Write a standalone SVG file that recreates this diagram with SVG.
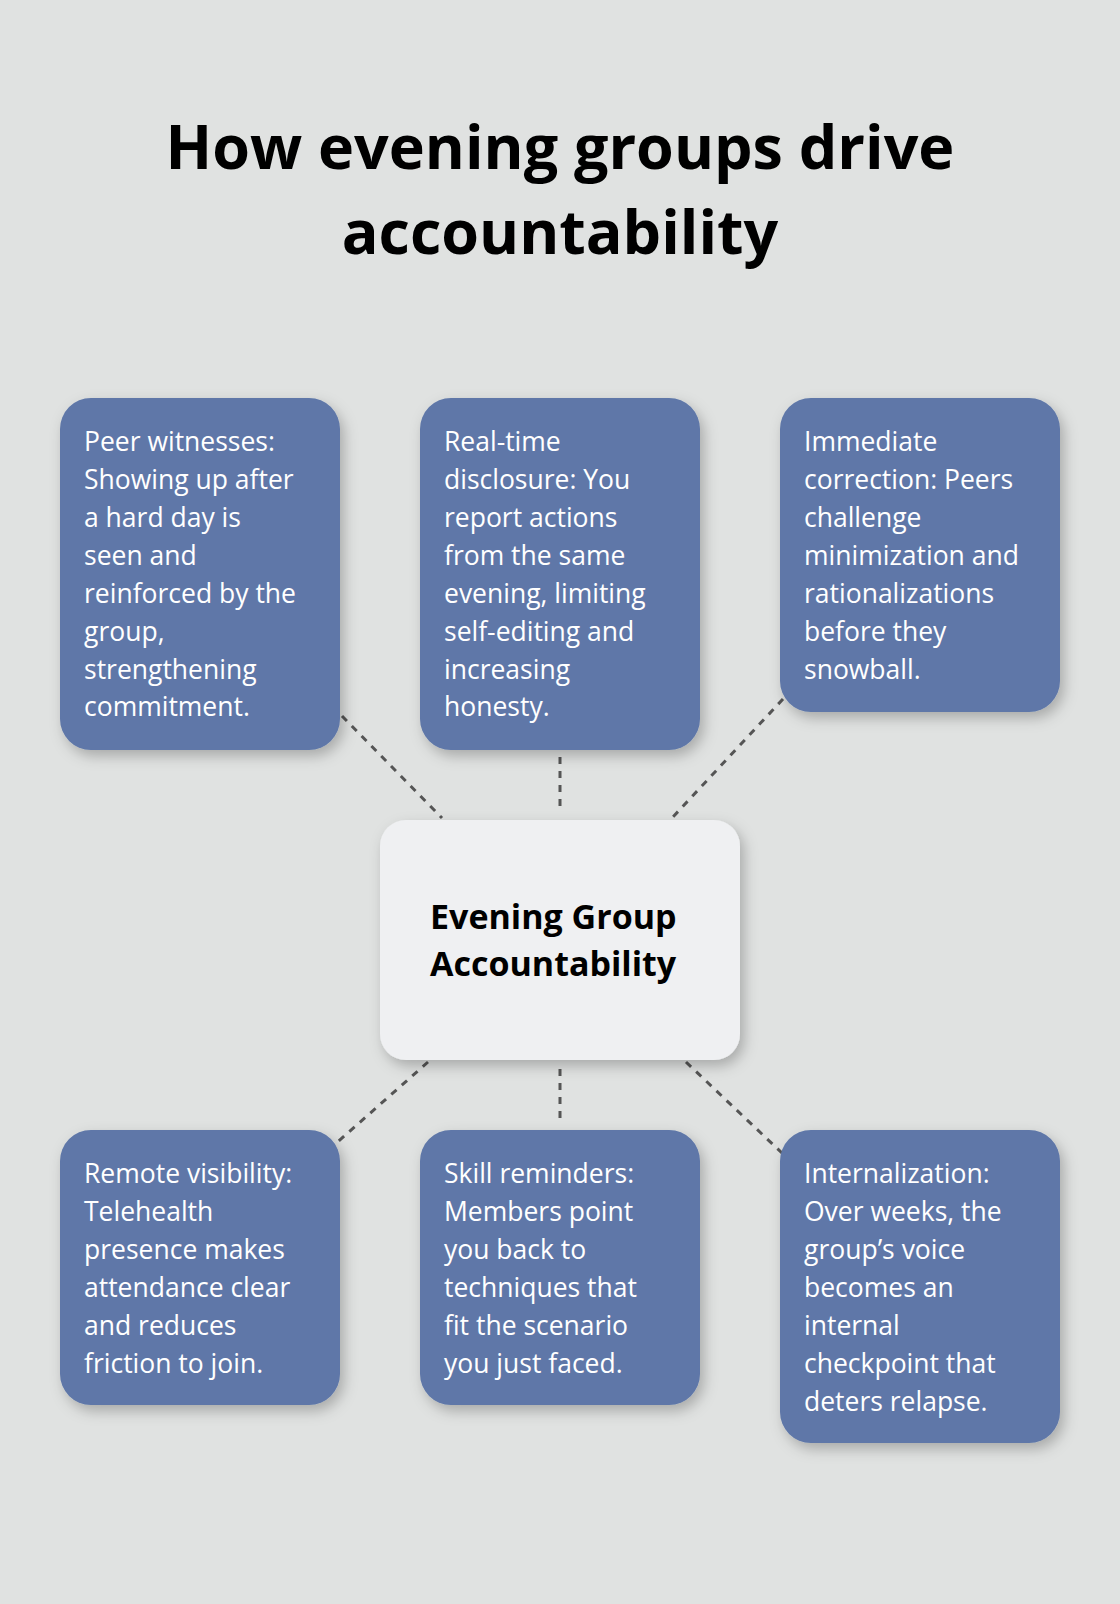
<svg xmlns="http://www.w3.org/2000/svg" width="1120" height="1604" viewBox="0 0 1120 1604">
<defs>
<filter id="sh" x="-20%" y="-20%" width="140%" height="140%"><feDropShadow dx="4" dy="6" stdDeviation="7" flood-color="#000" flood-opacity="0.25"/></filter>
<style>
.b{fill:#5e77a8;filter:url(#sh)}
.t{font-family:"Open Sans","Noto Sans",sans-serif;font-size:26.5px;fill:#fff}
.c{stroke:#555;stroke-width:3;stroke-dasharray:7 7;fill:none}
</style>
</defs>
<rect width="1120" height="1604" fill="#e0e2e1"/>
<g id="title" font-family="'Open Sans','Noto Sans',sans-serif" font-weight="bold" font-size="61" text-anchor="middle" fill="#000">
<text x="560" y="169">How evening groups drive</text>
<text x="560" y="254">accountability</text>
</g>
<g id="connectors">
<line class="c" x1="342" y1="716" x2="442" y2="818"/>
<line class="c" x1="560" y1="757" x2="560" y2="813"/>
<line class="c" x1="783" y1="699" x2="672" y2="818"/>
<line class="c" x1="428" y1="1062" x2="333" y2="1146"/>
<line class="c" x1="560" y1="1069" x2="560" y2="1125"/>
<line class="c" x1="686" y1="1062" x2="783" y2="1154"/>
</g>
<g id="center">
<rect x="380" y="820" width="360" height="240" rx="26" fill="#eff0f2" filter="url(#sh)"/>
<text font-family="'Open Sans','Noto Sans',sans-serif" font-weight="bold" font-size="34" fill="#000" x="430"><tspan x="430" y="929">Evening Group</tspan><tspan x="430" y="976">Accountability</tspan></text>
</g>
<g id="n1"><rect class="b" x="60" y="398" width="280" height="352" rx="31"/>
<text class="t"><tspan x="84" y="451">Peer witnesses:</tspan><tspan x="84" y="489">Showing up after</tspan><tspan x="84" y="527">a hard day is</tspan><tspan x="84" y="565">seen and</tspan><tspan x="84" y="603">reinforced by the</tspan><tspan x="84" y="641">group,</tspan><tspan x="84" y="679">strengthening</tspan><tspan x="84" y="716">commitment.</tspan></text></g>
<g id="n2"><rect class="b" x="420" y="398" width="280" height="352" rx="31"/>
<text class="t"><tspan x="444" y="451">Real-time</tspan><tspan x="444" y="489">disclosure: You</tspan><tspan x="444" y="527">report actions</tspan><tspan x="444" y="565">from the same</tspan><tspan x="444" y="603">evening, limiting</tspan><tspan x="444" y="641">self-editing and</tspan><tspan x="444" y="679">increasing</tspan><tspan x="444" y="716">honesty.</tspan></text></g>
<g id="n3"><rect class="b" x="780" y="398" width="280" height="314" rx="31"/>
<text class="t"><tspan x="804" y="451">Immediate</tspan><tspan x="804" y="489">correction: Peers</tspan><tspan x="804" y="527">challenge</tspan><tspan x="804" y="565">minimization and</tspan><tspan x="804" y="603">rationalizations</tspan><tspan x="804" y="641">before they</tspan><tspan x="804" y="679">snowball.</tspan></text></g>
<g id="n4"><rect class="b" x="60" y="1130" width="280" height="275" rx="31"/>
<text class="t"><tspan x="84" y="1183">Remote visibility:</tspan><tspan x="84" y="1221">Telehealth</tspan><tspan x="84" y="1259">presence makes</tspan><tspan x="84" y="1297">attendance clear</tspan><tspan x="84" y="1335">and reduces</tspan><tspan x="84" y="1373">friction to join.</tspan></text></g>
<g id="n5"><rect class="b" x="420" y="1130" width="280" height="275" rx="31"/>
<text class="t"><tspan x="444" y="1183">Skill reminders:</tspan><tspan x="444" y="1221">Members point</tspan><tspan x="444" y="1259">you back to</tspan><tspan x="444" y="1297">techniques that</tspan><tspan x="444" y="1335">fit the scenario</tspan><tspan x="444" y="1373">you just faced.</tspan></text></g>
<g id="n6"><rect class="b" x="780" y="1130" width="280" height="313" rx="31"/>
<text class="t"><tspan x="804" y="1183">Internalization:</tspan><tspan x="804" y="1221">Over weeks, the</tspan><tspan x="804" y="1259">group’s voice</tspan><tspan x="804" y="1297">becomes an</tspan><tspan x="804" y="1335">internal</tspan><tspan x="804" y="1373">checkpoint that</tspan><tspan x="804" y="1411">deters relapse.</tspan></text></g>
</svg>
